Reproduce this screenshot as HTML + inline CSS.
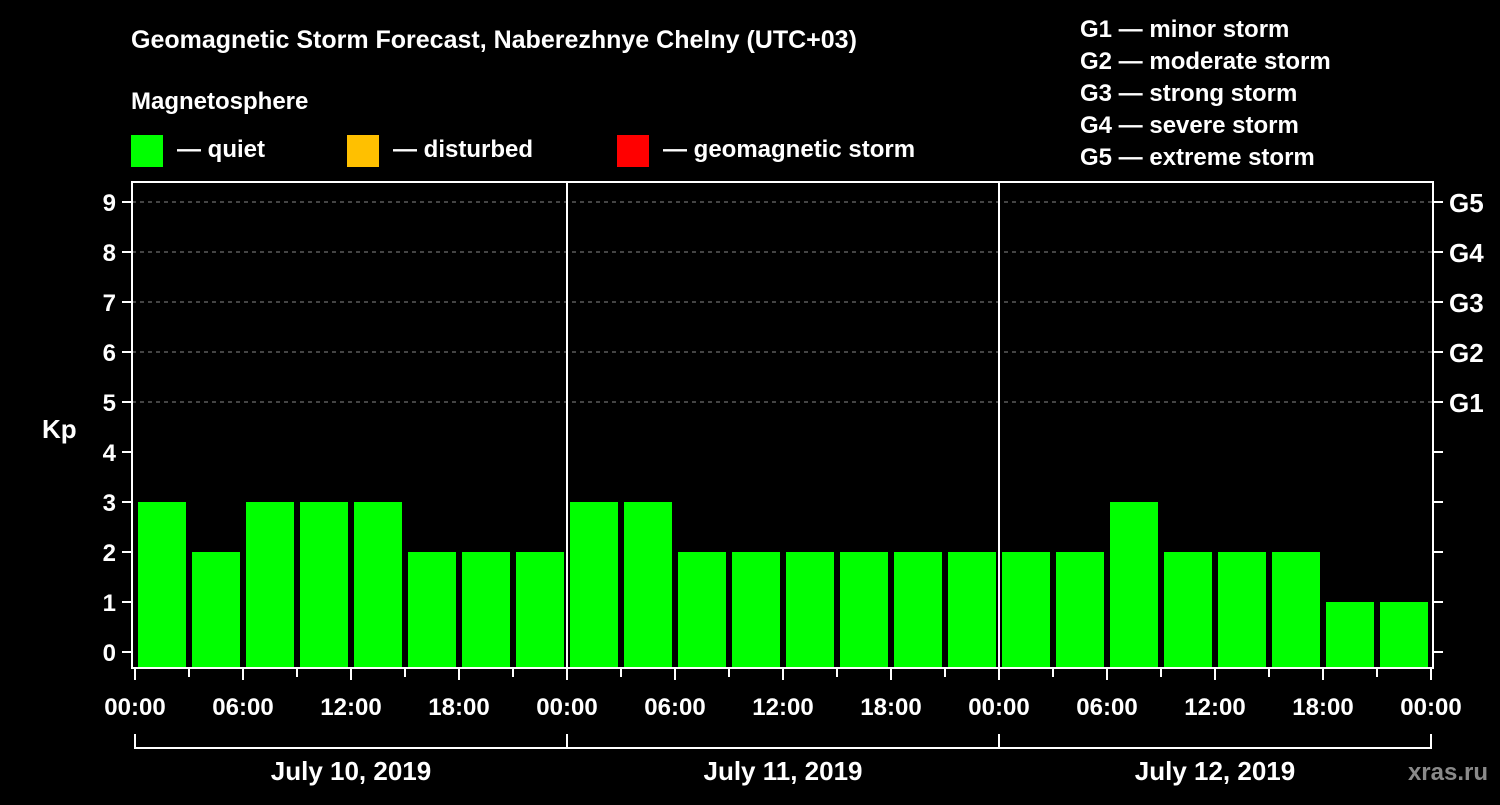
<!DOCTYPE html>
<html><head><meta charset="utf-8"><style>
body{margin:0;background:#000;}
svg text{font-family:"Liberation Sans",sans-serif;font-weight:bold;fill:#fff;}
</style></head><body>
<svg width="1500" height="800" xmlns="http://www.w3.org/2000/svg">
<rect width="1500" height="800" fill="#000"/>
<text x="131" y="48" font-size="25">Geomagnetic Storm Forecast, Naberezhnye Chelny (UTC+03)</text>
<text x="131" y="109" font-size="24">Magnetosphere</text>
<g><rect x="131" y="135" width="32" height="32" fill="#00ff00"/><text x="177" y="157" font-size="24">— quiet</text></g>
<g><rect x="347" y="135" width="32" height="32" fill="#ffc000"/><text x="393" y="157" font-size="24">— disturbed</text></g>
<g><rect x="617" y="135" width="32" height="32" fill="#ff0000"/><text x="663" y="157" font-size="24">— geomagnetic storm</text></g>
<g font-size="24">
<text x="1080" y="37">G1 — minor storm</text>
<text x="1080" y="69">G2 — moderate storm</text>
<text x="1080" y="101">G3 — strong storm</text>
<text x="1080" y="133">G4 — severe storm</text>
<text x="1080" y="165">G5 — extreme storm</text>
</g>
<text x="42" y="438" font-size="26">Kp</text>
<text x="1488" y="780" font-size="24" fill="#888" style="fill:#8a8a8a" text-anchor="end">xras.ru</text>
<g id="grid"></g>
<g id="bars"></g>
<g id="axes"></g>
</svg>
<script>
const kpValues=[3,2,3,3,3,2,2,2, 3,3,2,2,2,2,2,2, 2,2,3,2,2,2,1,1];
const dayLabels=["July 10, 2019","July 11, 2019","July 12, 2019"];
const hourLabels=["00:00","06:00","12:00","18:00"];
const yTicks=[0,1,2,3,4,5,6,7,8,9];
const gLabels={5:"G1",6:"G2",7:"G3",8:"G4",9:"G5"};
const NS="http://www.w3.org/2000/svg";
const X0=135,X1=1431,Ytop=182,Ybot=668;
const sx=h=>X0+(X1-X0)*h/72;
const sy=v=>652-v*50;
function mk(t,a,p){const e=document.createElementNS(NS,t);for(const k in a)e.setAttribute(k,a[k]);p.appendChild(e);return e;}
const grid=document.getElementById('grid'),bars=document.getElementById('bars'),axes=document.getElementById('axes');
yTicks.forEach(v=>{
 if(v>=5){const l=mk('line',{x1:132,x2:1433,y1:sy(v),y2:sy(v),stroke:'#888','stroke-dasharray':'4,4','stroke-width':1},grid);
 
 }
 mk('line',{x1:122,x2:132,y1:sy(v),y2:sy(v),stroke:'#fff','stroke-width':2},axes);
 mk('line',{x1:1433,x2:1443,y1:sy(v),y2:sy(v),stroke:'#fff','stroke-width':2},axes);
 const t=mk('text',{x:116,y:sy(v)+9,'font-size':24,'text-anchor':'end'},axes);t.textContent=v;
 
 
 if(gLabels[v]){const g=mk('text',{x:1449,y:sy(v)+10,'font-size':26},axes);g.textContent=gLabels[v];
 
 }
});
kpValues.forEach((v,i)=>{
 const x=sx(i*3)+3,w=sx(i*3+3)-sx(i*3)-6;
 const c=v>=5?'#ff0000':(v>=4?'#ffc000':'#00ff00');
 const r=mk('rect',{x:x,y:sy(v),width:w,height:667-sy(v),fill:c},bars);
 
 
});
// frame
const f=mk('rect',{x:132,y:182,width:1301,height:486,fill:'none',stroke:'#fff','stroke-width':2},axes);


for(let d=1;d<3;d++){mk('line',{x1:sx(d*24),x2:sx(d*24),y1:182,y2:668,stroke:'#fff','stroke-width':2},axes);}
for(let h=0;h<=72;h+=3){
 const major=h%6===0;
 mk('line',{x1:sx(h),x2:sx(h),y1:669,y2:major?680:677,stroke:'#fff','stroke-width':2},axes);
}
for(let h=0;h<=72;h+=6){
 const lbl=h===72?hourLabels[0]:hourLabels[(h%24)/6];
 const t=mk('text',{x:sx(h),y:715,'font-size':24,'text-anchor':'middle'},axes);t.textContent=lbl;
 
 
}
mk('polyline',{points:`${sx(0)},734 ${sx(0)},748 ${sx(72)},748 ${sx(72)},734`,fill:'none',stroke:'#fff','stroke-width':2},axes);
dayLabels.forEach((d,i)=>{
 if(i>0)mk('line',{x1:sx(i*24),x2:sx(i*24),y1:734,y2:748,stroke:'#fff','stroke-width':2},axes);
 const t=mk('text',{x:sx(i*24+12),y:780,'font-size':26,'text-anchor':'middle'},axes);t.textContent=d;
 
 
});
</script>
</body></html>
